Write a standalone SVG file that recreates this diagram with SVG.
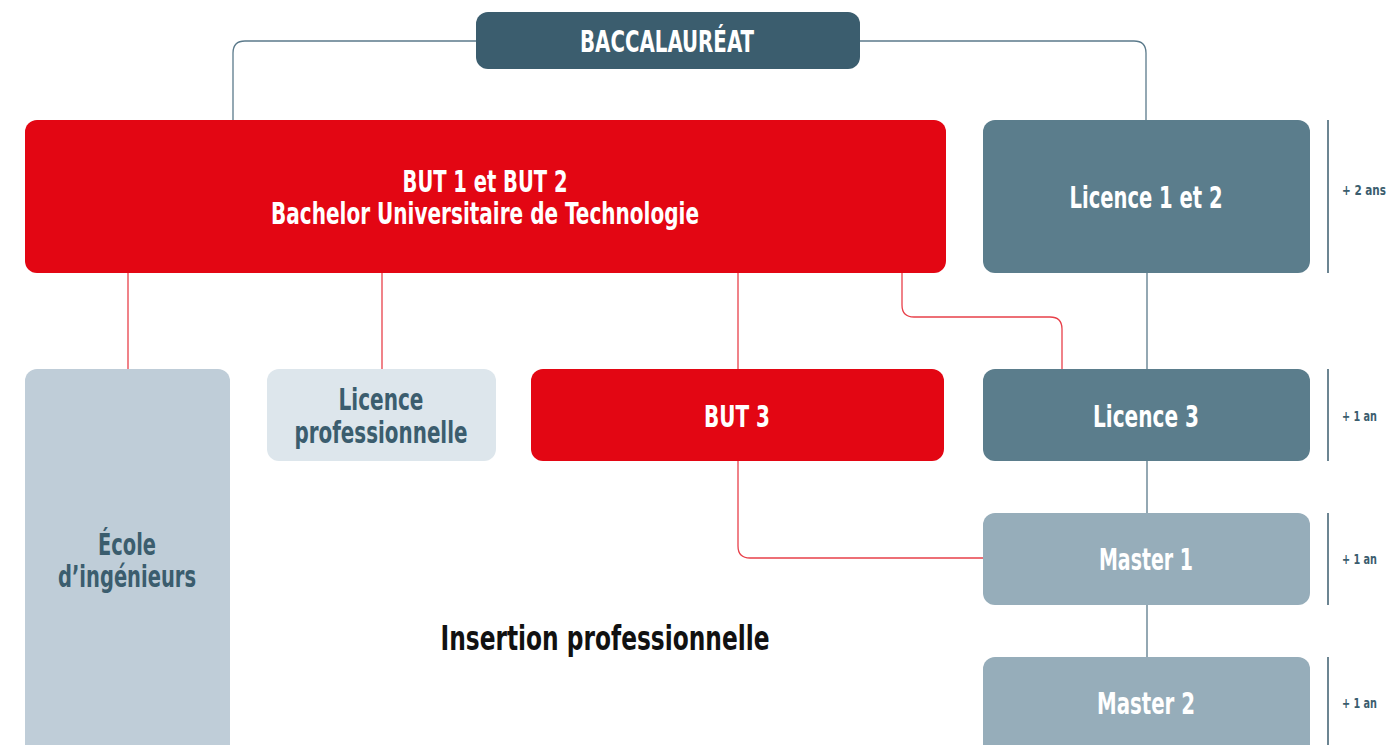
<svg xmlns="http://www.w3.org/2000/svg" width="1395" height="745" viewBox="0 0 1395 745">
<style>
text{font-family:"Liberation Sans Narrow","DejaVu Sans Condensed",sans-serif;font-weight:bold;text-anchor:middle}
.w{fill:#ffffff}
.d{fill:#3b5d6e}
.red{fill:#e30613}
.dark{fill:#3b5d6e}
.mid{fill:#5b7d8c}
.light{fill:#96adba}
.pale{fill:#bfcdd8}
.paler{fill:#dde6ec}
.lr{stroke:#e8404a;stroke-width:1.3;fill:none}
.lg{stroke:#5b7a8b;stroke-width:1.3;fill:none}
.bar{stroke:#3b5d6e;stroke-width:1.5}
.dur{font-size:14px;fill:#3b5d6e;text-anchor:start}
</style>
<rect width="1395" height="745" fill="#ffffff"/>
<g id="connectors">
<path class="lg" d="M233 120 V53 Q233 41 245 41 H476"/>
<path class="lg" d="M860 41 H1134 Q1146 41 1146 53 V120"/>
<path class="lr" d="M128 273 V369"/>
<path class="lr" d="M382 273 V369"/>
<path class="lr" d="M738 273 V369"/>
<path class="lr" d="M902 273 V305 Q902 317 914 317 H1050 Q1062 317 1062 329 V369"/>
<path class="lr" d="M738 461 V546 Q738 558 750 558 H983"/>
<path class="lg" d="M1147 273 V369 M1147 461 V513 M1147 605 V657"/>
</g>
<g id="bac"><rect class="dark" x="476" y="12" width="384" height="57" rx="12"/><text class="w" x="667" y="52" font-size="30" textLength="174" lengthAdjust="spacingAndGlyphs">BACCALAURÉAT</text></g>
<g id="but12"><rect class="red" x="25" y="120" width="921" height="153" rx="12"/><text class="w" x="485" y="192" font-size="30" textLength="165" lengthAdjust="spacingAndGlyphs">BUT 1 et BUT 2</text><text class="w" x="485" y="224" font-size="30" textLength="428" lengthAdjust="spacingAndGlyphs">Bachelor Universitaire de Technologie</text></g>
<g id="licence12"><rect class="mid" x="983" y="120" width="327" height="153" rx="12"/><text class="w" x="1146" y="208" font-size="30" textLength="153" lengthAdjust="spacingAndGlyphs">Licence 1 et 2</text></g>
<g id="ecole"><rect class="pale" x="25" y="369" width="205" height="390" rx="12"/><text class="d" x="127" y="555" font-size="30" textLength="58" lengthAdjust="spacingAndGlyphs">École</text><text class="d" x="127" y="587" font-size="30" textLength="138" lengthAdjust="spacingAndGlyphs">d’ingénieurs</text></g>
<g id="licpro"><rect class="paler" x="267" y="369" width="229" height="92" rx="12"/><text class="d" x="381" y="410" font-size="30" textLength="85" lengthAdjust="spacingAndGlyphs">Licence</text><text class="d" x="381" y="443" font-size="30" textLength="173" lengthAdjust="spacingAndGlyphs">professionnelle</text></g>
<g id="but3"><rect class="red" x="531" y="369" width="413" height="92" rx="12"/><text class="w" x="737" y="427" font-size="30" textLength="66" lengthAdjust="spacingAndGlyphs">BUT 3</text></g>
<g id="licence3"><rect class="mid" x="983" y="369" width="327" height="92" rx="12"/><text class="w" x="1146" y="427" font-size="30" textLength="106" lengthAdjust="spacingAndGlyphs">Licence 3</text></g>
<g id="master1"><rect class="light" x="983" y="513" width="327" height="92" rx="12"/><text class="w" x="1146" y="570" font-size="30" textLength="94" lengthAdjust="spacingAndGlyphs">Master 1</text></g>
<g id="master2"><rect class="light" x="983" y="657" width="327" height="100" rx="12"/><text class="w" x="1146" y="714" font-size="30" textLength="98" lengthAdjust="spacingAndGlyphs">Master 2</text></g>
<g id="insertion"><text x="605" y="650" font-size="33" fill="#111111" textLength="329" lengthAdjust="spacingAndGlyphs">Insertion professionnelle</text></g>
<g id="durations">
<line class="bar" x1="1328" y1="120" x2="1328" y2="273"/>
<line class="bar" x1="1328" y1="369" x2="1328" y2="461"/>
<line class="bar" x1="1328" y1="513" x2="1328" y2="605"/>
<line class="bar" x1="1328" y1="657" x2="1328" y2="745"/>
<text class="dur" x="1342" y="195" textLength="44" lengthAdjust="spacingAndGlyphs">+ 2 ans</text>
<text class="dur" x="1342" y="421" textLength="35" lengthAdjust="spacingAndGlyphs">+ 1 an</text>
<text class="dur" x="1342" y="564" textLength="35" lengthAdjust="spacingAndGlyphs">+ 1 an</text>
<text class="dur" x="1342" y="708" textLength="35" lengthAdjust="spacingAndGlyphs">+ 1 an</text>
</g>
</svg>
